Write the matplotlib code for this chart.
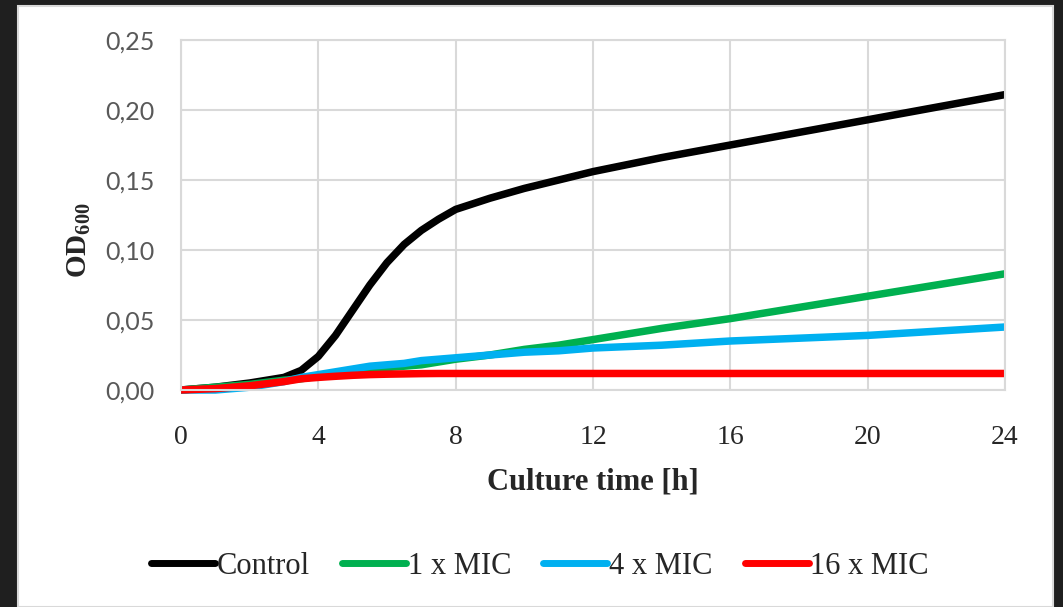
import matplotlib
matplotlib.use("Agg")
import matplotlib.pyplot as plt
from matplotlib.patches import Rectangle
from matplotlib.lines import Line2D

# ---- data ----
time_h = [0, 1, 2, 3, 3.5, 4, 4.5, 5, 5.5, 6, 6.5, 7, 7.5, 8, 9, 10, 11, 12, 14, 16, 18, 20, 22, 24]
control = [0.000, 0.002, 0.005, 0.009, 0.014, 0.024, 0.039, 0.057, 0.075, 0.091, 0.104, 0.114, 0.122,
           0.129, 0.137, 0.144, 0.150, 0.156, 0.166, 0.175, 0.184, 0.193, 0.202, 0.211]
mic1 = [0.000, 0.002, 0.004, 0.007, 0.008, 0.010, 0.011, 0.012, 0.014, 0.016, 0.017, 0.018, 0.020,
        0.022, 0.025, 0.029, 0.032, 0.036, 0.044, 0.051, 0.059, 0.067, 0.075, 0.083]
mic4 = [0.000, 0.000, 0.002, 0.006, 0.009, 0.011, 0.013, 0.015, 0.017, 0.018, 0.019, 0.021, 0.022,
        0.023, 0.025, 0.027, 0.028, 0.030, 0.032, 0.035, 0.037, 0.039, 0.042, 0.045]
mic16 = [0.000, 0.001, 0.003, 0.006, 0.008, 0.009, 0.0098, 0.0105, 0.011, 0.0113, 0.0115, 0.0117, 0.0118,
         0.0118, 0.0118, 0.0118, 0.0118, 0.0118, 0.0118, 0.0118, 0.0118, 0.0118, 0.0118, 0.0118]
series_names = ["Control", "1 x MIC", "4 x MIC", "16 x MIC"]
series_colors = ["#000000", "#00B050", "#00B0F0", "#FF0000"]
x_ticks = [0, 4, 8, 12, 16, 20, 24]
y_ticks = [0.00, 0.05, 0.10, 0.15, 0.20, 0.25]
y_ticklabels = ["0,00", "0,05", "0,10", "0,15", "0,20", "0,25"]

plt.rcParams['mathtext.fontset'] = 'custom'
plt.rcParams['mathtext.rm'] = 'Liberation Serif'
plt.rcParams['mathtext.bf'] = 'Liberation Serif:bold'

W, H = 1063, 607
fig = plt.figure(figsize=(W / 100, H / 100), dpi=100, facecolor="#1f1f1f")

# white card with light grey edge
fig.patches.append(Rectangle((18 / W, 0), (1053 - 18) / W, 1 - 6 / H, transform=fig.transFigure,
                             facecolor="white", edgecolor="#d9d9d9", linewidth=1.5, zorder=-10))

ax = fig.add_axes([181 / W, 1 - 390 / H, (1005 - 181) / W, (390 - 40) / H])
ax.set_facecolor("white")

for y, nm, c in zip([control, mic1, mic4, mic16], series_names, series_colors):
    ax.plot(time_h, y, color=c, lw=5.4, solid_capstyle="butt", solid_joinstyle="round", label=nm,
            clip_on=False)

ax.set_xlim(0, 24)
ax.set_ylim(0, 0.25)
ax.set_xticks(x_ticks)
ax.set_xticklabels([str(t) for t in x_ticks], family="Liberation Serif", fontsize=20, color="#262626")
ax.set_yticks(y_ticks)
ax.set_yticklabels(y_ticklabels, family="Lato", fontsize=18, color="#595959")
ax.tick_params(length=0)
ax.tick_params(axis="x", pad=25)
ax.tick_params(axis="y", pad=19)
ax.grid(True, color="#d9d9d9", lw=1.5)
ax.set_axisbelow(True)
for s in ["left", "bottom", "top", "right"]:
    ax.spines[s].set_color("#d9d9d9")
    ax.spines[s].set_linewidth(1.5)

ax.set_xlabel("Culture time [h]", family="Liberation Serif", fontweight="bold", fontsize=22,
              color="#262626", labelpad=13)
fig.text(79 / W, 1 - 240 / H, r"$\mathbf{OD_{600}}$", rotation=90, fontsize=21, color="#262626",
         ha="center", va="center")

handles = [Line2D([0], [0], color=c, lw=5.0, solid_capstyle="round") for c in series_colors]
fig.legend(handles, series_names, loc="center", bbox_to_anchor=(540 / W, 1 - 566 / H), ncol=4,
           frameon=False, prop={"family": "Liberation Serif", "size": 22}, labelcolor="#262626",
           handlelength=2.1, handletextpad=0.05, columnspacing=1.05)

fig.savefig("out.png", dpi=100, facecolor=fig.get_facecolor())
